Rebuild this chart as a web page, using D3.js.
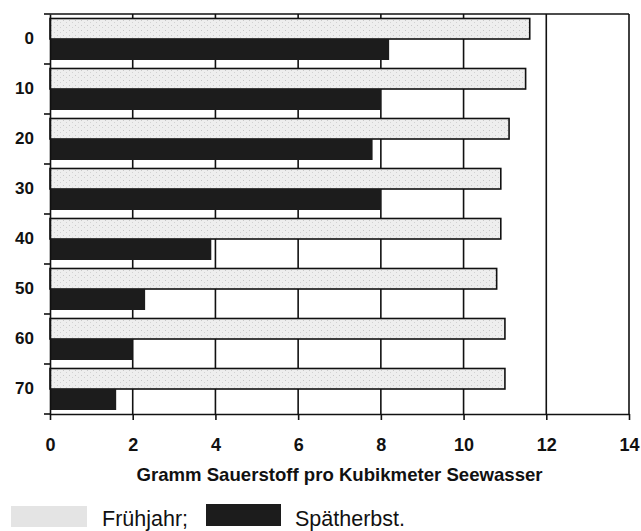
<!DOCTYPE html>
<meta charset="utf-8">
<html>
<head>
<style>
body { margin: 0; background: #fff; }
text { font-family: "Liberation Sans", Arial, sans-serif; fill: #111; }
.grid line { stroke: #111; stroke-width: 1.6px; }
.axis path, .axis line { stroke: #111; stroke-width: 1.6px; }
.axis text { font-weight: bold; }
</style>
</head>
<body>
<svg width="641" height="531"></svg>
<script src="https://d3js.org/d3.v7.min.js"></script>
<script>

// depth (m) categories
var depths = ["0", "10", "20", "30", "40", "50", "60", "70"];
// gram oxygen per cubic meter
var fruehjahr = [11.6, 11.5, 11.1, 10.9, 10.9, 10.8, 11.0, 11.0];
var spaetherbst = [8.2, 8.0, 7.8, 8.0, 3.9, 2.3, 2.0, 1.6];
var xTicks = [0, 2, 4, 6, 8, 10, 12, 14];
var legendLabels = ["Frühjahr;", "Spätherbst."];

var svg = d3.select("svg"),
    margin = {top: 14, left: 50},
    width = 579,
    height = 400;

var x = d3.scaleLinear().domain([0, 14]).range([0, width]);
var y = d3.scaleBand().domain(depths).range([0, height]);

var g = svg.append("g")
    .attr("transform", "translate(" + margin.left + "," + margin.top + ")");

// vertical grid + frame
g.append("g").attr("class", "grid")
  .selectAll("line").data(xTicks.slice(1)).enter().append("line")
    .attr("x1", d => x(d)).attr("x2", d => x(d))
    .attr("y1", 0).attr("y2", height);
g.append("line").attr("class", "frame")
    .attr("x1", 0).attr("x2", x(14)).attr("y1", 0).attr("y2", 0)
    .attr("stroke", "#111").attr("stroke-width", 1.6);

// light speckle pattern for Frühjahr
var defs = svg.append("defs");
var pat = defs.append("pattern").attr("id", "speck")
    .attr("width", 6).attr("height", 5).attr("patternUnits", "userSpaceOnUse");
pat.append("rect").attr("width", 6).attr("height", 5).attr("fill", "#eeeeee");
pat.append("rect").attr("x", 1).attr("y", 1).attr("width", 1).attr("height", 1).attr("fill", "#c8c8c8");
pat.append("rect").attr("x", 4).attr("y", 3).attr("width", 1).attr("height", 1).attr("fill", "#d2d2d2");

var bw = y.bandwidth();
var rows = depths.map((d, i) => ({depth: d, f: fruehjahr[i], s: spaetherbst[i]}));

g.selectAll(".bar-f").data(rows).enter().append("rect")
    .attr("class", "bar-f")
    .attr("x", x(0))
    .attr("y", d => y(d.depth) + bw * 0.09)
    .attr("width", d => x(d.f) - x(0))
    .attr("height", bw * 0.41)
    .attr("fill", "url(#speck)")
    .attr("stroke", "#111")
    .attr("stroke-width", 1.6);

g.selectAll(".bar-s").data(rows).enter().append("rect")
    .attr("class", "bar-s")
    .attr("x", x(0))
    .attr("y", d => y(d.depth) + bw * 0.50)
    .attr("width", d => x(d.s) - x(0))
    .attr("height", bw * 0.42)
    .attr("fill", "#1c1c1c");

// x axis
var xAxis = g.append("g").attr("class", "axis")
    .attr("transform", "translate(0," + height + ")")
    .call(d3.axisBottom(x).tickValues(xTicks).tickSize(6).tickSizeOuter(0).tickPadding(18));
xAxis.selectAll("text").attr("font-size", 18).attr("fill", "#111");

// y axis: labels centred on bands, ticks on band boundaries
var yAxis = g.append("g").attr("class", "axis")
    .call(d3.axisLeft(y).tickSize(0).tickPadding(16));
yAxis.selectAll("text").attr("font-size", 17).attr("fill", "#111");
g.append("g").attr("class", "axis")
  .selectAll("line").data(depths.map(d => y(d)).concat([height])).enter().append("line")
    .attr("x1", -6).attr("x2", 0)
    .attr("y1", d => d).attr("y2", d => d);

// axis title
svg.append("text")
    .attr("x", margin.left + width / 2)
    .attr("y", 481)
    .attr("text-anchor", "middle")
    .attr("font-size", 18.6)
    .attr("font-weight", "bold")
    .text("Gramm Sauerstoff pro Kubikmeter Seewasser");

// legend
var legend = svg.append("g");
legend.append("rect").attr("x", 11).attr("y", 506).attr("width", 76).attr("height", 21)
    .attr("fill", "#e4e4e4");
legend.append("text").attr("x", 102).attr("y", 526).attr("font-size", 21.5)
    .attr("fill", "#222").text(legendLabels[0]);
legend.append("rect").attr("x", 206).attr("y", 504).attr("width", 75).attr("height", 22)
    .attr("fill", "#1c1c1c");
legend.append("text").attr("x", 295).attr("y", 526).attr("font-size", 21.5)
    .attr("fill", "#222").text(legendLabels[1]);

</script>
</body>
</html>
